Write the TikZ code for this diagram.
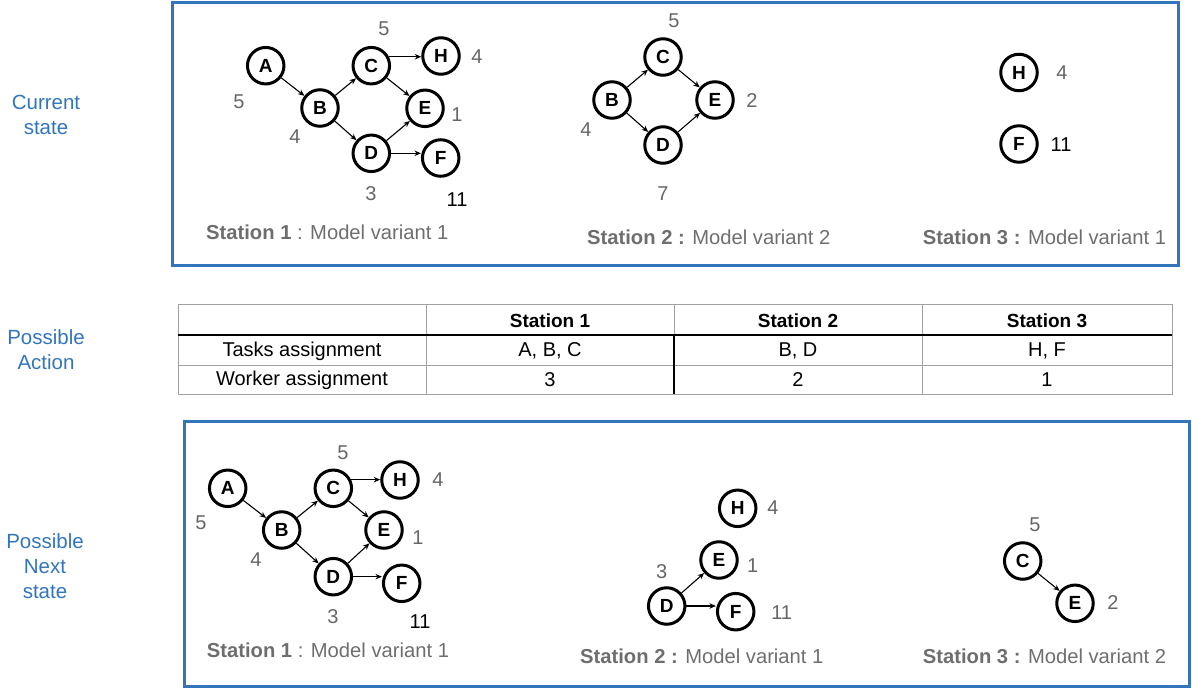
\documentclass[tikz,border=0pt]{standalone}
\usepackage{fontspec}
\setmainfont{Liberation Sans}
\usetikzlibrary{arrows.meta}
\definecolor{sblue}{RGB}{50,117,186}
\definecolor{wgrey}{RGB}{102,102,102}
\definecolor{lgrey}{RGB}{110,110,110}
\definecolor{tgrey}{RGB}{160,160,160}
\tikzset{
  tnode/.style={circle, draw, line width=3pt, minimum size=36.5pt, inner sep=0pt, font=\fontsize{19}{19}\selectfont\bfseries},
  arr/.style={-{Stealth[length=6.5pt,width=5.5pt]}, line width=1.1pt},
  wt/.style={text=wgrey, inner sep=0pt, font=\fontsize{20}{20}\selectfont},
  wtb/.style={wt, text=black},
  slabel/.style={text=lgrey, anchor=west, inner sep=0pt, font=\fontsize{20.2}{20}\selectfont},
  side/.style={text=sblue, align=center, inner sep=0pt, font=\fontsize{20.5}{25}\selectfont},
  stateframe/.style={draw=sblue, line width=3pt},
  cell/.style={inner sep=0pt, font=\fontsize{20}{20}\selectfont},
  hcell/.style={inner sep=0pt, font=\fontsize{19}{19}\selectfont\bfseries},
}
\begin{document}
\begin{tikzpicture}[x=1pt,y=-1pt]
\useasboundingbox (0,0) rectangle (1192,690);

% side labels
\node[side] (s1) at (46,114.5) {Current\\state};
\node[side] (s2) at (46,350) {Possible\\Action};
\node[side] (s3) at (45,566.5) {Possible\\Next\\state};

% frames
\draw[stateframe] (172,2.5) rectangle (1178,265);
\draw[stateframe] (184,421.5) rectangle (1189,686.5);

% ---------- current state, station 1
\node[tnode] (a1) at (265.7,65.7) {A};
\node[tnode] (b1) at (320,108) {B};
\node[tnode] (c1) at (371.3,65.7) {C};
\node[tnode] (h1) at (441,56) {H};
\node[tnode] (e1) at (425,108.3) {E};
\node[tnode] (d1) at (371.3,153.3) {D};
\node[tnode] (f1) at (440.7,158) {F};
\draw[arr] (a1) -- (b1);
\draw[arr] (b1) -- (c1);
\draw[arr] (b1) -- (d1);
\draw[arr] (c1.27) -- (c1.27 -| h1.west);
\draw[arr] (c1) -- (e1);
\draw[arr] (d1) -- (e1);
\draw[arr] (d1.east) -- (d1.east -| f1.west);
\node[wt] (wc1) at (384,29) {5};
\node[wt] (wh1) at (477,57) {4};
\node[wt] (wa1) at (239,102) {5};
\node[wt] (wb1) at (295,137) {4};
\node[wt] (we1) at (457,115) {1};
\node[wt] (wd1) at (371,194) {3};
\node[wtb] (wf1) at (457,200) {11};
\node[slabel] (l1) at (206,232) {\textbf{Station 1} : Model variant 1};

% ---------- current state, station 2
\node[tnode] (b2) at (612,100) {B};
\node[tnode] (c2) at (663,57) {C};
\node[tnode] (e2) at (715,100) {E};
\node[tnode] (d2) at (663,145) {D};
\draw[arr] (b2) -- (c2);
\draw[arr] (c2) -- (e2);
\draw[arr] (b2) -- (d2);
\draw[arr] (d2) -- (e2);
\node[wt] (wc2) at (674,21) {5};
\node[wt] (we2) at (752,101) {2};
\node[wt] (wb2) at (586,130) {4};
\node[wt] (wd2) at (663,194) {7};
\node[slabel] (l2) at (587,237) {\textbf{Station 2 :} Model variant 2};

% ---------- current state, station 3
\node[tnode] (h3) at (1019,72.5) {H};
\node[tnode] (f3) at (1019,144) {F};
\node[wt] (wh3) at (1062,73) {4};
\node[wtb] (wf3) at (1061,145) {11};
\node[slabel] (l3) at (922.7,237) {\textbf{Station 3 :} Model variant 1};

% ---------- table
\draw[tgrey, line width=0.8pt] (178,304) rectangle (1172,394);
\draw[tgrey, line width=0.8pt] (178,365) -- (1172,365);
\draw[tgrey, line width=0.8pt] (426,304) -- (426,394);
\draw[tgrey, line width=0.8pt] (674,304) -- (674,335);
\draw[tgrey, line width=0.8pt] (922,304) -- (922,394);
\draw[black, line width=1.3pt] (674,335) -- (674,394);
\draw[black, line width=1.6pt] (178,335) -- (1172,335);
\node[hcell] (t01) at (550,321) {Station 1};
\node[hcell] (t02) at (798,321) {Station 2};
\node[hcell] (t03) at (1047,321) {Station 3};
\node[cell] (t10) at (302,351) {Tasks assignment};
\node[cell] (t11) at (550,351) {A, B, C};
\node[cell] (t12) at (798,351) {B, D};
\node[cell] (t13) at (1047,351) {H, F};
\node[cell] (t20) at (302,380) {Worker assignment};
\node[cell] (t21) at (550,380) {3};
\node[cell] (t22) at (798,380) {2};
\node[cell] (t23) at (1047,380) {1};

% ---------- next state, station 1
\node[tnode] (a4) at (227.7,488.3) {A};
\node[tnode] (b4) at (281.7,530) {B};
\node[tnode] (c4) at (333.3,488.3) {C};
\node[tnode] (h4) at (400,480) {H};
\node[tnode] (e4) at (384,530) {E};
\node[tnode] (d4) at (333.3,576.7) {D};
\node[tnode] (f4) at (401.7,583.3) {F};
\draw[arr] (a4) -- (b4);
\draw[arr] (b4) -- (c4);
\draw[arr] (b4) -- (d4);
\draw[arr] (c4.26) -- (c4.26 -| h4.west);
\draw[arr] (c4) -- (e4);
\draw[arr] (d4) -- (e4);
\draw[arr] (d4.east) -- (d4.east -| f4.west);
\node[wt] (wc4) at (343,453) {5};
\node[wt] (wh4) at (438,480) {4};
\node[wt] (wa4) at (201,523) {5};
\node[wt] (wb4) at (256,560) {4};
\node[wt] (we4) at (418,538) {1};
\node[wt] (wd4) at (333,616.7) {3};
\node[wtb] (wf4) at (420,621.7) {11};
\node[slabel] (l4) at (206.7,650) {\textbf{Station 1} : Model variant 1};

% ---------- next state, station 2
\node[tnode] (h5) at (737.7,508.3) {H};
\node[tnode] (e5) at (719,560) {E};
\node[tnode] (d5) at (666.7,606) {D};
\node[tnode] (f5) at (735.7,611.7) {F};
\draw[arr] (d5) -- (e5);
\draw[arr] (d5.east) -- (d5.east -| f5.west);
\node[wt] (wh5) at (773,508) {4};
\node[wt] (we5) at (752.7,566) {1};
\node[wt] (wd5) at (661.7,571.7) {3};
\node[wt] (wf5) at (781.7,612.3) {11};
\node[slabel] (l5) at (580,656.7) {\textbf{Station 2 :} Model variant 1};

% ---------- next state, station 3
\node[tnode] (c6) at (1022.7,561) {C};
\node[tnode] (e6) at (1075,603.3) {E};
\draw[arr] (c6) -- (e6);
\node[wt] (wc6) at (1035,525) {5};
\node[wt] (we6) at (1113,603) {2};
\node[slabel] (l6) at (922.7,656.7) {\textbf{Station 3 :} Model variant 2};
\end{tikzpicture}
\end{document}
